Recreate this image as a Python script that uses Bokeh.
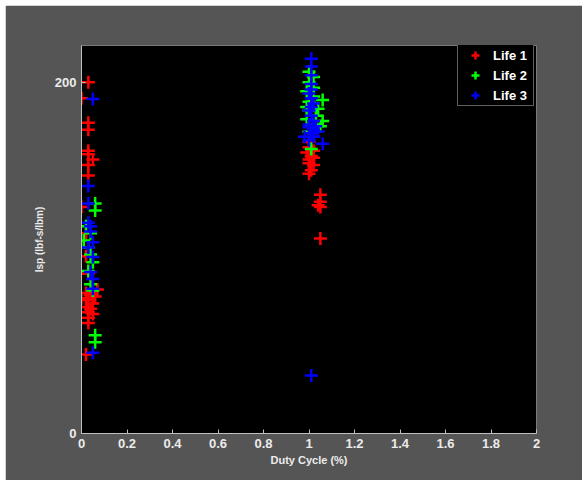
from bokeh.plotting import figure
from bokeh.models import FixedTicker, Legend, LegendItem
from bokeh.embed import file_html
from bokeh.resources import INLINE

# ---- data ----
life1_x = [0.03, 0.0, 0.03, 0.03, 0.03, 0.03, 0.05, 0.03, 0.03, 0.0, 0.02, 0.02, 0.03, 0.07,
           0.0, 0.02, 0.04, 0.06, 0.03, 0.05, 0.02, 0.04, 0.03, 0.05, 0.03, 0.03, 0.02,
           1.01, 1.0, 1.02, 1.01, 1.0, 1.02, 1.0, 1.05, 1.05, 1.04, 1.05, 1.05,
           1.0, 0.99, 1.02, 1.01, 1.0]
life1_y = [200, 191, 177, 173, 161, 159, 156, 153, 147, 129, 114, 101, 91, 82,
           77, 80, 79, 78, 76, 74, 72, 71, 69, 68, 66, 63, 45,
           171, 163, 161, 158, 156, 153, 148, 136, 132, 130, 129, 111,
           166, 160, 157, 150, 154]

life2_x = [0.06, 0.06, 0.02, 0.04, 0.03, 0.05, 0.03, 0.04, 0.05, 0.06, 0.06, 0.01, 0.04,
           1.0, 1.02, 0.99, 1.06, 1.0, 0.99, 1.06, 1.03, 1.01, 1.04, 1.0,
           1.0, 1.02, 0.99, 1.03, 1.0, 1.05, 1.02]
life2_y = [131, 127, 118, 114, 106, 97.6, 92.5, 85, 81.5, 56, 52, 110, 102,
           206, 203, 195, 190, 189, 179, 178, 181, 162, 185, 184,
           200, 197, 186, 176, 172, 175, 192]

life3_x = [0.05, 0.03, 0.03, 0.03, 0.04, 0.04, 0.05, 0.03, 0.05, 0.04, 0.05, 0.05, 0.05,
           1.01, 1.01, 1.01, 1.01, 1.0, 1.02, 1.0, 1.02, 1.0, 1.04, 0.98, 1.02, 1.06, 1.01,
           1.01, 1.01, 1.01, 1.01, 1.0, 1.01, 1.0, 1.02, 1.03]
life3_y = [190.5, 141, 131, 120, 118, 115, 109, 106, 100.5, 92, 88, 82.4, 46,
           213.5, 209, 204, 199, 193.6, 188, 184, 178, 174.5, 172, 169, 169, 165, 33,
           196, 191, 186, 181, 176, 171, 167, 173, 175]

series_names = ["Life 1", "Life 2", "Life 3"]
series_colors = ["#ff0000", "#00ff00", "#0000ff"]

x_ticks = [0, 0.2, 0.4, 0.6, 0.8, 1, 1.2, 1.4, 1.6, 1.8, 2]
x_tick_labels = ["0", "0.2", "0.4", "0.6", "0.8", "1", "1.2", "1.4", "1.6", "1.8", "2"]
y_ticks = [0, 200]
y_tick_labels = ["0", "200"]

BG = "#555555"
TXT = "#ececec"
AX = "#c0c0c0"

p = figure(width=577, height=475, margin=(5, 0, 0, 5),
           x_range=(0, 2), y_range=(0, 221),
           output_backend="svg", toolbar_location=None,
           background_fill_color="black", border_fill_color=BG,
           min_border_left=76, min_border_right=46, min_border_top=40, min_border_bottom=47)
p.outline_line_color = "#7a7a7a"
p.outline_line_width = 1
p.grid.visible = False

renderers = []
for xs, ys, c in zip([life1_x, life2_x, life3_x], [life1_y, life2_y, life3_y], series_colors):
    r = p.scatter(xs, ys, marker="cross", size=13, line_color=c, line_width=2.5)
    renderers.append(r)

for ax in (p.xaxis[0], p.yaxis[0]):
    ax.axis_line_color = AX
    ax.major_tick_line_color = AX
    ax.major_tick_in = 4
    ax.major_tick_out = 0
    ax.minor_tick_line_color = None
    ax.major_label_text_color = TXT
    ax.major_label_text_font = "Liberation Sans"
    ax.major_label_text_font_style = "bold"
    ax.major_label_text_font_size = "13px"
    ax.axis_label_text_color = TXT
    ax.axis_label_text_font = "Liberation Sans"
    ax.axis_label_text_font_style = "bold"

p.xaxis.ticker = FixedTicker(ticks=x_ticks)
p.xaxis.major_label_overrides = dict(zip(x_ticks, x_tick_labels))
p.yaxis.ticker = FixedTicker(ticks=y_ticks)
p.yaxis.major_label_overrides = dict(zip(y_ticks, y_tick_labels))
p.xaxis.axis_label = "Duty Cycle (%)"
p.yaxis.axis_label = "Isp (lbf-s/lbm)"
p.xaxis.axis_label_text_font_size = "11px"
p.yaxis.axis_label_text_font_size = "10px"
p.xaxis.major_label_standoff = 5
p.yaxis.major_label_standoff = 5
p.xaxis.axis_label_standoff = 3
p.yaxis.axis_label_standoff = 7

legend = Legend(items=[LegendItem(label=n, renderers=[r]) for n, r in zip(series_names, renderers)],
                location=(376, 327), margin=0, padding=0, spacing=0,
                glyph_width=34, glyph_height=20, label_height=20, label_width=40,
                label_standoff=1,
                background_fill_color="black", background_fill_alpha=1,
                border_line_color="#bdbdbd", border_line_width=1,
                label_text_color="white", label_text_font="Liberation Sans",
                label_text_font_style="bold", label_text_font_size="13px")
p.add_layout(legend)

open("out.html", "w").write(file_html(p, INLINE))
